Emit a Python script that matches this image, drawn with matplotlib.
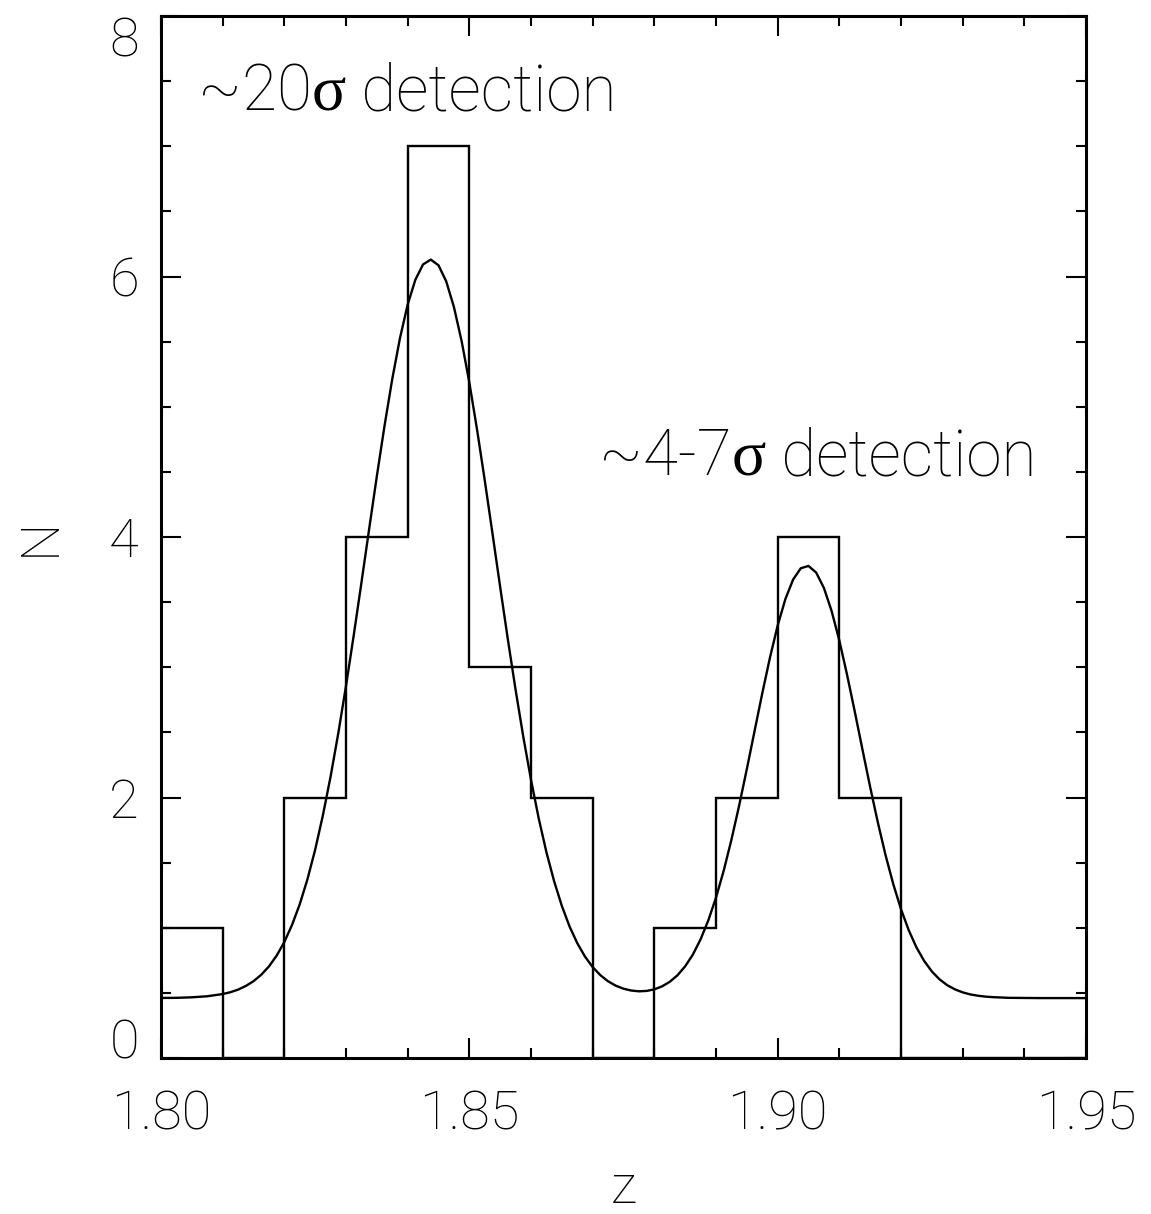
# -*- coding: utf-8 -*-
"""
Redshift histogram with two-peak fit (N vs z).
"""

import matplotlib
matplotlib.use("Agg")
import matplotlib.pyplot as plt
from matplotlib.ticker import MultipleLocator
from matplotlib.transforms import offset_copy

# histogram: bin edges and counts
bin_edges = [1.80, 1.81, 1.82, 1.83, 1.84, 1.85, 1.86, 1.87,
             1.88, 1.89, 1.90, 1.91, 1.92, 1.93, 1.94, 1.95]
counts = [1, 0, 2, 4, 7, 3, 2, 0, 1, 2, 4, 2, 0, 0, 0]

# fitted curve
fit_z = [1.8000, 1.8025, 1.8050, 1.8075, 1.8100, 1.81125, 1.8125, 1.81375,
         1.8150, 1.81625, 1.8175, 1.81875, 1.8200, 1.82125, 1.8225, 1.82375,
         1.8250, 1.82625, 1.8275, 1.82875, 1.8300, 1.83125, 1.8325, 1.83375,
         1.8350, 1.83625, 1.8375, 1.83875, 1.8400, 1.84125, 1.8425, 1.84375,
         1.8450, 1.84625, 1.8475, 1.84875, 1.8500, 1.85125, 1.8525, 1.85375,
         1.8550, 1.85625, 1.8575, 1.85875, 1.8600, 1.86125, 1.8625, 1.86375,
         1.8650, 1.86625, 1.8675, 1.86875, 1.8700, 1.87125, 1.8725, 1.87375,
         1.8750, 1.87625, 1.8775, 1.87875, 1.8800, 1.88125, 1.8825, 1.88375,
         1.8850, 1.88625, 1.8875, 1.88875, 1.8900, 1.89125, 1.8925, 1.89375,
         1.8950, 1.89625, 1.8975, 1.89875, 1.9000, 1.90125, 1.9025, 1.90375,
         1.9050, 1.90625, 1.9075, 1.90875, 1.9100, 1.91125, 1.9125, 1.91375,
         1.9150, 1.91625, 1.9175, 1.91875, 1.9200, 1.92125, 1.9225, 1.92375,
         1.9250, 1.92625, 1.9275, 1.92875, 1.9300, 1.93125, 1.9325, 1.93375,
         1.9350, 1.9375, 1.9400, 1.9425, 1.9450, 1.9475, 1.9500]
fit_n = [0.461, 0.462, 0.466, 0.474, 0.491, 0.505, 0.525, 0.553,
         0.590, 0.639, 0.703, 0.786, 0.891, 1.022, 1.181, 1.373,
         1.600, 1.863, 2.161, 2.494, 2.857, 3.245, 3.649, 4.061,
         4.467, 4.855, 5.213, 5.527, 5.785, 5.976, 6.093, 6.130,
         6.086, 5.963, 5.766, 5.504, 5.186, 4.825, 4.435, 4.028,
         3.616, 3.213, 2.827, 2.466, 2.136, 1.840, 1.580, 1.357,
         1.168, 1.010, 0.882, 0.779, 0.698, 0.636, 0.589, 0.555,
         0.532, 0.518, 0.512, 0.515, 0.527, 0.550, 0.585, 0.635,
         0.704, 0.794, 0.911, 1.056, 1.231, 1.438, 1.675, 1.937,
         2.218, 2.509, 2.799, 3.074, 3.320, 3.523, 3.673, 3.760,
         3.778, 3.727, 3.609, 3.432, 3.206, 2.944, 2.661, 2.369,
         2.081, 1.808, 1.557, 1.335, 1.143, 0.982, 0.850, 0.746,
         0.665, 0.604, 0.559, 0.527, 0.504, 0.488, 0.478, 0.471,
         0.467, 0.462, 0.461, 0.460, 0.460, 0.460, 0.460]

x_ticks = [1.80, 1.85, 1.90, 1.95]
x_tick_labels = ["1.80", "1.85", "1.90", "1.95"]
y_ticks = [0, 2, 4, 6, 8]

label_font = dict(family="Roboto", weight="light", size=39)

fig = plt.figure(figsize=(11.51, 12.14), dpi=100)
ax = fig.add_axes([0.1399, 0.1285, 0.8036, 0.8583])

# histogram outline and fitted curve
ax.stairs(counts, bin_edges, color="black", linewidth=1.7, baseline=0)
ax.plot(fit_z, fit_n, color="black", linewidth=1.7, solid_joinstyle="round")

ax.set_xlim(1.80, 1.95)
ax.set_ylim(0, 8)

# IDL-like ticks: inside, on all four sides
ax.set_xticks(x_ticks)
ax.set_xticklabels(x_tick_labels, fontdict=label_font)
ax.set_yticks(y_ticks)
ax.set_yticklabels([str(v) for v in y_ticks], fontdict=label_font)
ax.xaxis.set_minor_locator(MultipleLocator(0.01))
ax.yaxis.set_minor_locator(MultipleLocator(0.5))
ax.tick_params(which="both", direction="in", top=True, right=True,
               width=1.5, color="black")
ax.tick_params(which="major", length=14.5)
ax.tick_params(which="minor", length=7.5)
ax.tick_params(axis="x", which="major", pad=22)
ax.tick_params(axis="y", which="major", pad=16)
for s in ax.spines.values():
    s.set_linewidth(2.2)

# keep end labels of the y axis inside the frame
ylabs = ax.get_yticklabels()
ylabs[0].set_va("baseline")
ylabs[-1].set_va("top")

ax.set_xlabel("z", fontdict=label_font, va="baseline")
ax.xaxis.set_label_coords(0.5, -0.139)
ax.set_ylabel("N", fontdict=label_font, va="center")
ax.yaxis.set_label_coords(-0.131, 0.5)

# annotations: sans text with a serif sigma
fig.canvas.draw()
renderer = fig.canvas.get_renderer()


def sigma_label(x, y, before, after, size):
    pieces = [(before, "Roboto", "light"), ("\u03c3", "Liberation Serif", "normal"),
              (after, "Roboto", "light")]
    dx = 0.0
    for txt, fam, wt in pieces:
        tr = offset_copy(ax.transAxes, fig=fig, x=dx, y=0, units="dots")
        t = ax.text(x, y, txt, transform=tr, family=fam, weight=wt, size=size,
                    ha="left", va="baseline")
        dx += t.get_window_extent(renderer=renderer).width


sigma_label(0.040, 0.9098, "~20", " detection", 46)
sigma_label(0.4735, 0.5595, "~4-7", " detection", 46)

plt.savefig("out.png", dpi=100)
